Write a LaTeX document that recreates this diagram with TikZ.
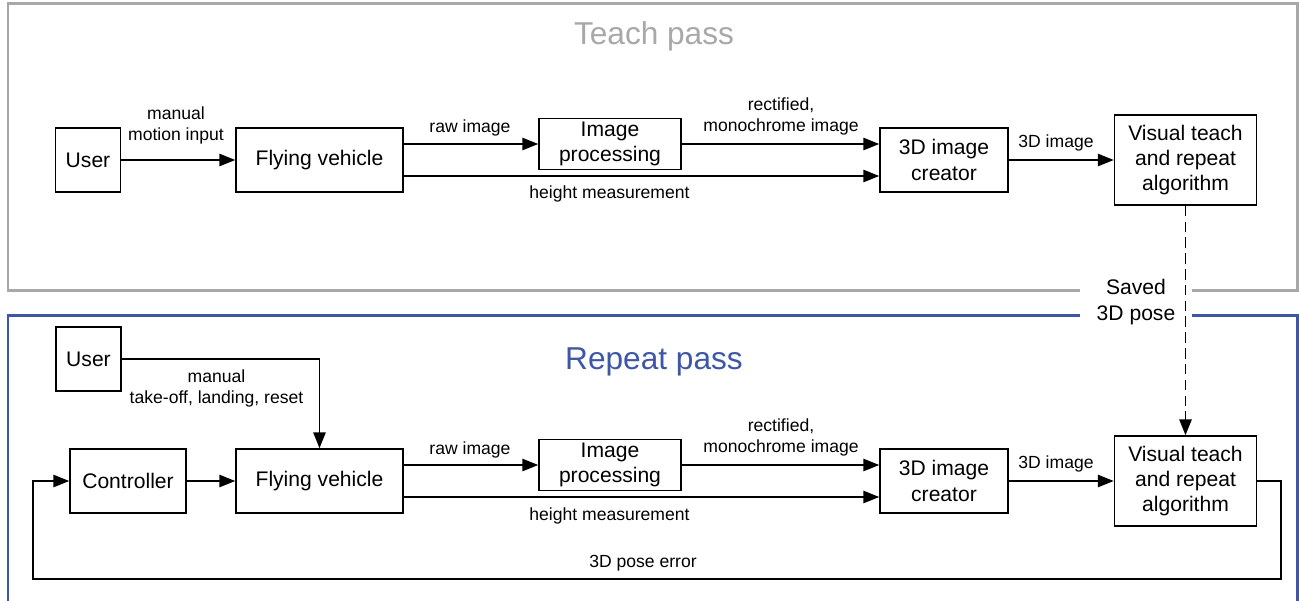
\documentclass[tikz,border=0pt]{standalone}
\usepackage{fontspec}
\setmainfont{Liberation Sans}
\usetikzlibrary{arrows.meta}
\definecolor{teachgray}{RGB}{168,168,168}
\definecolor{repeatblue}{RGB}{62,86,166}

\begin{document}
\begin{tikzpicture}[x=0.02cm,y=-0.02cm,
	box/.style={draw,line width=0.9pt,align=center,inner sep=0pt,font=\fontsize{12}{14.4}\selectfont},
	lab/.style={align=center,inner sep=0pt,font=\fontsize{10}{12}\selectfont},
	arr/.style={line width=0.9pt,-{Triangle[length=9pt,width=7pt]}}]
		\useasboundingbox (0,0) rectangle (1299,600);
		% frames
		\draw[teachgray,line width=1.7pt] (8,290) -- (8,3) -- (1297,3) -- (1297,290) -- cycle;
		\draw[repeatblue,line width=1.7pt] (8,610) -- (8,315) -- (1297,315) -- (1297,610);
		\node(tt) at (654,36)[text=teachgray,font=\fontsize{18}{21}\selectfont]{Teach pass};
		\node(rt) at (654,362)[text=repeatblue,font=\fontsize{18}{21}\selectfont]{Repeat pass};
		\node(sv) at (1136,302)[fill=white,align=center,inner sep=0pt,minimum width=2.24cm,minimum height=1.0cm,font=\fontsize{12}{14.4}\selectfont]{Saved\\3D pose};

		% teach pass
		\node(u1) at (88,160)[box,minimum width=1.3cm,minimum height=1.28cm]{User};
		\node(f1) at (319.5,160)[box,minimum width=3.34cm,minimum height=1.28cm]{Flying vehicle};
		\node(i1) at (610,144)[box,minimum width=2.84cm,minimum height=1.02cm]{Image\\processing};
		\node(c1) at (944,160)[box,minimum width=2.56cm,minimum height=1.28cm]{3D image\\creator};
		\node(v1) at (1185.5,160)[box,minimum width=2.84cm,minimum height=1.8cm]{Visual teach\\and repeat\\algorithm};

		\draw[arr] (u1) to (f1);
		\draw[arr] ([yshift=0.32cm]f1.east) to ([yshift=0.32cm]f1.east -| i1.west);
		\draw[arr] (i1.east) to (i1.east -| c1.west);
		\draw[arr] ([yshift=-0.32cm]f1.east) to ([yshift=-0.32cm]f1.east -| c1.west);
		\draw[arr] (c1) to (v1);
		\node(l1) at (176,125)[lab]{manual\\motion input};
		\node(l2) at (470,128)[lab]{raw image};
		\node(l3) at (781,116)[lab]{rectified,\\monochrome image};
		\node(l4) at (609.5,194)[lab]{height measurement};
		\node(l5) at (1056,143)[lab]{3D image};

		% repeat pass
		\node(u2) at (88.5,359)[box,minimum width=1.3cm,minimum height=1.28cm]{User};
		\node(t2) at (128,481)[box,minimum width=2.32cm,minimum height=1.28cm]{Controller};
		\node(f2) at (319.5,481)[box,minimum width=3.34cm,minimum height=1.28cm]{Flying vehicle};
		\node(i2) at (610,465)[box,minimum width=2.84cm,minimum height=1.02cm]{Image\\processing};
		\node(c2) at (944,481)[box,minimum width=2.56cm,minimum height=1.28cm]{3D image\\creator};
		\node(v2) at (1185.5,481)[box,minimum width=2.84cm,minimum height=1.8cm]{Visual teach\\and repeat\\algorithm};
		\coordinate(fr) at (1281,579);
		\coordinate(fl) at (33,579);

		\draw[arr] (u2.east) -| (f2.north);
		\draw[arr] (t2) to (f2);
		\draw[arr] ([yshift=0.32cm]f2.east) to ([yshift=0.32cm]f2.east -| i2.west);
		\draw[arr] (i2.east) to (i2.east -| c2.west);
		\draw[arr] ([yshift=-0.32cm]f2.east) to ([yshift=-0.32cm]f2.east -| c2.west);
		\draw[arr] (c2) to (v2);
		\draw[arr] (v2.east) -| (fr) -- (fl) |- (t2.west);
		\draw[arr,line width=1pt,dash pattern=on 6pt off 3pt] (v1.south) to (v2.north);
		\node(l6) at (216.5,388)[lab]{manual\\take-off, landing, reset};
		\node(l7) at (470,450)[lab]{raw image};
		\node(l8) at (781,437)[lab]{rectified,\\monochrome image};
		\node(l9) at (609.5,516)[lab]{height measurement};
		\node(l10) at (1056,464)[lab]{3D image};
		\node(l11) at (643,563)[lab]{3D pose error};
	\end{tikzpicture}
\end{document}
